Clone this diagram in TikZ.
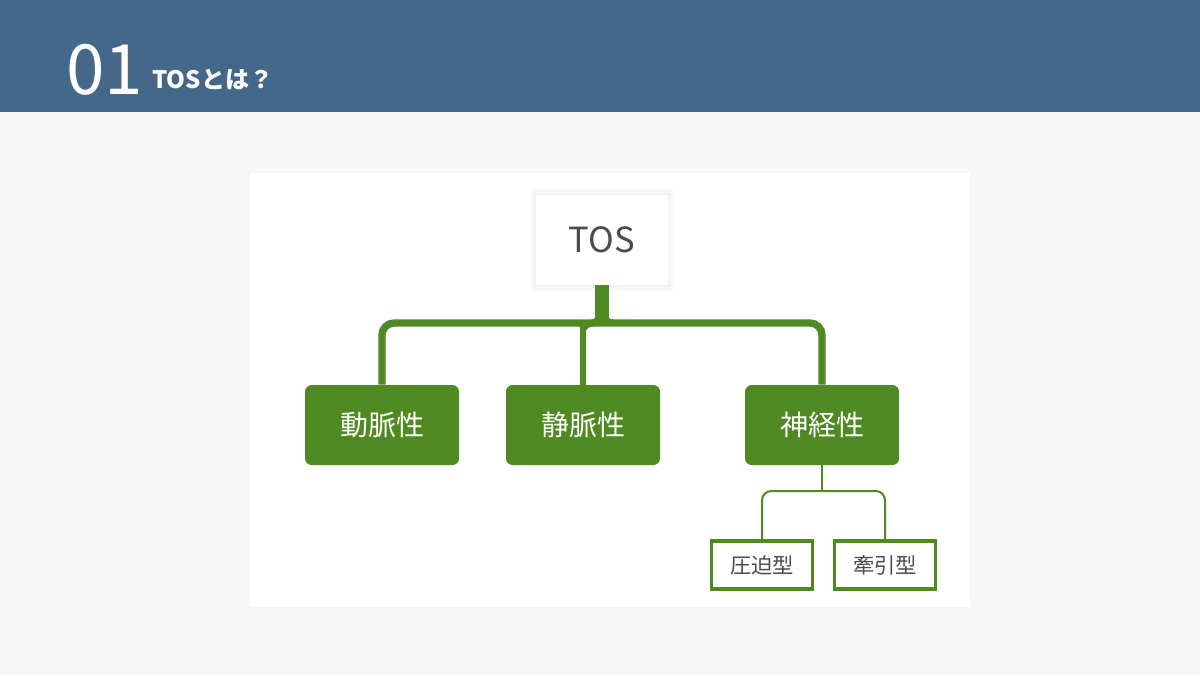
\documentclass[tikz,border=0pt]{standalone}
\usepackage{fontspec}
\setmainfont{Noto Sans CJK JP}
\usetikzlibrary{calc}
\definecolor{hdr}{RGB}{69,104,138}
\definecolor{bgc}{RGB}{247,247,247}
\definecolor{grn}{RGB}{79,137,33}
\definecolor{txt}{RGB}{75,75,75}
\tikzset{
  mainbox/.style={draw=none,fill=grn,rounded corners=5pt,minimum width=115.5pt,minimum height=60pt,inner sep=0pt,text=white,font=\fontsize{21}{24}\selectfont},
  subbox/.style={draw=grn,line width=2.4pt,fill=white,minimum width=76pt,minimum height=36pt,inner sep=0pt,text=txt,font=\fontsize{16}{19}\selectfont},
  conn/.style={draw=grn,line width=5.5pt,rounded corners=9pt},
  subconn/.style={draw=grn,line width=1.5pt,rounded corners=7pt},
}
\begin{document}
\begin{tikzpicture}[x=0.75pt,y=-0.75pt]
\useasboundingbox (0,0) rectangle (1200,675);
\fill[bgc] (0,0) rectangle (1200,675);
\fill[hdr] (0,0) rectangle (1200,112);
\node[anchor=base west,text=white,inner sep=0pt,font=\fontsize{52}{56}\selectfont] (num) at (66,94) {01};
\node[anchor=base west,text=white,inner sep=0pt,font=\bfseries\fontsize{18}{22}\selectfont] (title) at (152,88) {TOSとは？};
\fill[white] (250,173) rectangle (970,607);
% TOS box with soft shadow
\fill[black!2] (530,189) rectangle (674,291);
\fill[black!3.5] (532,191) rectangle (672,289);
\fill[black!5] (534,193) rectangle (670,287);
\node[fill=white,minimum width=99pt,minimum height=67.5pt,inner sep=0pt,text=txt,font=\fontsize{26}{30}\selectfont] (tos) at (602,240) {TOS};
\node[mainbox] (d1) at (382,425) {動脈性};
\node[mainbox] (d2) at (583,425) {静脈性};
\node[mainbox] (d3) at (822,425) {神経性};
\node[subbox] (s1) at (762,565) {圧迫型};
\node[subbox] (s2) at (885,565) {牽引型};
\coordinate (jn) at (602,323);
\coordinate (sj) at (822,491);
% connectors
\draw[conn] (d1.north) |- (jn) -| (d3.north);
\draw[draw=grn,line width=11pt] (tos.south) -- (tos.south |- jn);
% fillets where the trunk meets the bar
\fill[grn] (596.6,306) .. controls (596.6,319.5) .. (584,320.5) -- (596.6,321) -- cycle;
\fill[grn] (607.4,306) .. controls (607.4,319.5) .. (620,320.5) -- (607.4,321) -- cycle;
\draw[draw=grn,line width=4.5pt] (d2.north) -- (d2.north |- jn);
% fillets where the middle branch meets the bar
\fill[grn] (585.2,345) .. controls (585.2,327) .. (600,325.5) -- (585.2,325) -- cycle;
\fill[grn] (580.8,333) .. controls (580.8,326.5) .. (575,325.5) -- (580.8,325) -- cycle;
\draw[subconn] (d3.south) -- (sj);
\draw[subconn] (s1.north) |- (sj) -| (s2.north);
\end{tikzpicture}
\end{document}
